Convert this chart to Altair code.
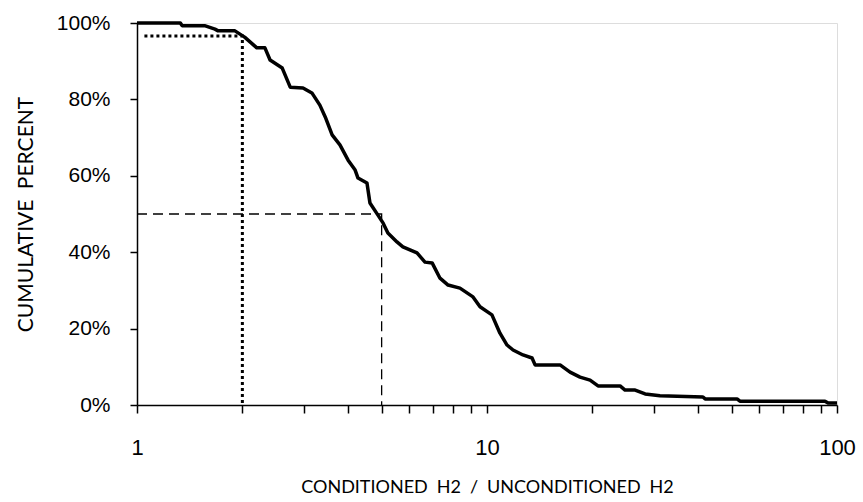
import altair as alt
import pandas as pd

# Empirical cumulative curve (ratio, cumulative percent)
ratio = [1.0, 1.33, 1.345, 1.56, 1.67, 1.70, 1.90, 2.03, 2.20, 2.32, 2.40, 2.60, 2.74, 2.98,
         3.16, 3.33, 3.45, 3.61, 3.80, 4.01, 4.20, 4.28, 4.54, 4.63, 4.88, 5.05, 5.21, 5.53,
         5.75, 6.31, 6.65, 6.97, 7.34, 7.74, 8.37, 9.12, 9.55, 10.33, 10.89, 11.41, 11.87,
         12.67, 13.45, 13.72, 16.17, 17.27, 18.44, 19.7, 20.76, 24.0, 24.8, 26.5, 28.3, 31.2,
         41.4, 42.0, 51.8, 52.8, 92.4, 94.3, 100.0]
cum_pct = [100, 100, 99.3, 99.3, 98.4, 98.0, 98.0, 96.3, 93.5, 93.5, 90.3, 88.2, 83.2, 83.0,
           81.7, 78.5, 75.4, 70.7, 68.1, 64.1, 61.5, 59.4, 58.1, 52.9, 49.7, 47.6, 45.0, 42.7,
           41.4, 39.8, 37.4, 37.2, 33.2, 31.4, 30.6, 28.3, 25.7, 23.6, 18.8, 15.7, 14.4,
           13.1, 12.3, 10.5, 10.5, 8.6, 7.3, 6.5, 5.0, 5.0, 3.9, 3.9, 2.9, 2.4,
           2.1, 1.6, 1.6, 1.0, 1.0, 0.5, 0.5]

# Reference guide lines
dotted_x = [1.05, 2.0, 2.0]
dotted_y = [96.6, 96.6, 0]
dashed_x = [1.0, 5.0, 5.0]
dashed_y = [50, 50, 0]

x_ticks = [1, 2, 3, 4, 5, 6, 7, 8, 9, 10, 20, 30, 40, 50, 60, 70, 80, 90, 100]
y_ticks = [0, 20, 40, 60, 80, 100]

x_title = "CONDITIONED\u2002H2\u2002/\u2002UNCONDITIONED\u2002H2"
y_title = "CUMULATIVE\u2002PERCENT"

curve = pd.DataFrame({"x": ratio, "y": cum_pct, "i": range(len(ratio))})
dotted = pd.DataFrame({"x": dotted_x, "y": dotted_y, "i": range(3)})
dashed = pd.DataFrame({"x": dashed_x, "y": dashed_y, "i": range(3)})

xscale = alt.Scale(type="log", domain=[1, 100], nice=False)
yscale = alt.Scale(domain=[0, 100], nice=False)

xaxis = alt.Axis(values=x_ticks, labelExpr="(datum.value == 1 || datum.value == 10 || datum.value == 100) ? datum.label : ''",
                 format="d", grid=False, tickSize=8, tickWidth=1.5, tickColor="black",
                 domainColor="black", domainWidth=1.5, labelFont="Liberation Sans",
                 labelFontSize=22, labelColor="black", labelPadding=24, labelFlush=False,
                 title=x_title, titleFont="Lato",
                 titleFontSize=18, titleFontWeight="normal", titleColor="black", titlePadding=20)
yaxis = alt.Axis(values=y_ticks, labelExpr="datum.value + '%'", grid=False, tickSize=7,
                 tickWidth=1.5, tickColor="black", domainColor="black", domainWidth=1.5,
                 labelFont="Liberation Sans", labelFontSize=21, labelColor="black",
                 labelPadding=20, labelFlush=False, title=y_title, titleFont="Lato",
                 titleFontSize=21, titleFontWeight="normal", titleColor="black", titlePadding=20)

base_curve = alt.Chart(curve).mark_line(color="black", strokeWidth=3.5, strokeJoin="round").encode(
    x=alt.X("x:Q", scale=xscale, axis=xaxis),
    y=alt.Y("y:Q", scale=yscale, axis=yaxis),
    order="i:Q",
)
dot_layer = alt.Chart(dotted).mark_line(color="black", strokeWidth=3, strokeDash=[3, 3]).encode(
    x=alt.X("x:Q", scale=xscale, axis=xaxis), y=alt.Y("y:Q", scale=yscale, axis=yaxis), order="i:Q")
dash_layer = alt.Chart(dashed).mark_line(color="black", strokeWidth=1.3, strokeDash=[10, 6]).encode(
    x=alt.X("x:Q", scale=xscale, axis=xaxis), y=alt.Y("y:Q", scale=yscale, axis=yaxis), order="i:Q")

chart = alt.layer(dot_layer, dash_layer, base_curve).properties(
    width=700, height=382,
    autosize=alt.AutoSizeParams(type="none"),
    padding={"left": 137, "top": 23, "right": 26, "bottom": 97},
).configure_view(stroke=None).configure_axis(grid=False).configure(background="white")

chart.save("out.html", embed_options={"renderer": "svg", "actions": False})
